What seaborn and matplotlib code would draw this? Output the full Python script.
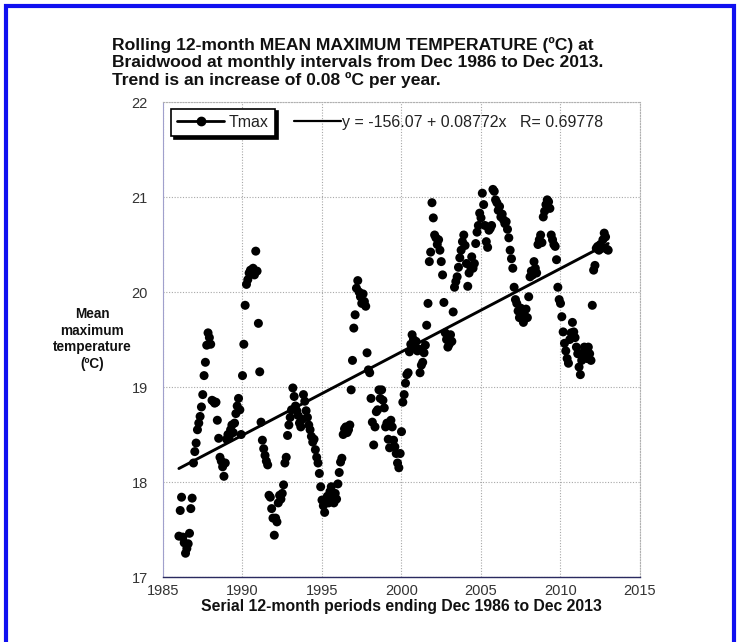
import matplotlib
matplotlib.use("Agg")
import matplotlib.pyplot as plt
from matplotlib.lines import Line2D
from matplotlib.patches import Rectangle
import numpy as np
import pandas as pd
import seaborn as sns

# Rolling 12-month mean maximum temperature (°C) at Braidwood, one value per
# month; the first 12-month window ends Dec 1986, the last ends Dec 2013.
tmax_1986_1990 = [
    17.43, 17.70, 17.84, 17.42, 17.36, 17.25, 17.30, 17.35, 17.46, 17.72, 17.83, 18.20,
    18.32, 18.41, 18.55, 18.62, 18.69, 18.79, 18.92, 19.12, 19.26, 19.44, 19.57, 19.52,
    19.45, 18.86, 18.85, 18.83, 18.84, 18.65, 18.46, 18.26, 18.22, 18.16, 18.06, 18.20,
    18.45, 18.50, 18.48, 18.55, 18.60, 18.52, 18.62, 18.72, 18.80, 18.88, 18.76, 18.50,
    19.12, 19.45, 19.86, 20.08, 20.13, 20.20, 20.23, 20.20, 20.25, 20.18, 20.43, 20.22,
]
tmax_1991_1995 = [
    19.67, 19.16, 18.63, 18.44, 18.35, 18.28, 18.22, 18.18, 17.86, 17.84, 17.72, 17.62,
    17.44, 17.62, 17.58, 17.78, 17.86, 17.82, 17.88, 17.97, 18.20, 18.26, 18.49, 18.60,
    18.68, 18.76, 18.99, 18.90, 18.80, 18.75, 18.70, 18.62, 18.58, 18.66, 18.92, 18.85,
    18.75, 18.68, 18.60, 18.55, 18.48, 18.42, 18.45, 18.34, 18.26, 18.20, 18.09, 17.95,
    17.81, 17.75, 17.68, 17.80, 17.85, 17.78, 17.90, 17.95, 17.85, 17.78, 17.88, 17.82,
]
tmax_1996_2000 = [
    17.98, 18.10, 18.21, 18.25, 18.50, 18.56, 18.58, 18.52, 18.55, 18.60, 18.97, 19.28,
    19.62, 19.76, 20.04, 20.12, 20.00, 19.95, 19.88, 19.98, 19.90, 19.85, 19.36, 19.18,
    19.15, 18.88, 18.63, 18.39, 18.58, 18.74, 18.76, 18.97, 18.88, 18.97, 18.86, 18.78,
    18.58, 18.62, 18.45, 18.36, 18.65, 18.58, 18.44, 18.37, 18.30, 18.20, 18.15, 18.30,
    18.53, 18.84, 18.92, 19.04, 19.13, 19.15, 19.37, 19.45, 19.55, 19.50, 19.42, 19.48,
]
tmax_2001_2005 = [
    19.38, 19.40, 19.15, 19.23, 19.26, 19.36, 19.44, 19.65, 19.88, 20.32, 20.42, 20.94,
    20.78, 20.60, 20.57, 20.50, 20.55, 20.44, 20.32, 20.18, 19.89, 19.57, 19.50, 19.42,
    19.45, 19.55, 19.48, 19.79, 20.05, 20.11, 20.16, 20.26, 20.36, 20.44, 20.53, 20.60,
    20.49, 20.30, 20.06, 20.20, 20.27, 20.37, 20.25, 20.30, 20.51, 20.63, 20.70, 20.83,
    20.78, 21.04, 20.92, 20.70, 20.53, 20.47, 20.65, 20.67, 20.70, 21.08, 21.06, 20.97,
]
tmax_2006_2010 = [
    20.94, 20.86, 20.90, 20.79, 20.82, 20.76, 20.72, 20.74, 20.66, 20.57, 20.44, 20.35,
    20.25, 20.05, 19.92, 19.88, 19.80, 19.73, 19.83, 19.78, 19.68, 19.75, 19.82, 19.73,
    19.95, 20.16, 20.22, 20.18, 20.32, 20.25, 20.20, 20.50, 20.55, 20.60, 20.52, 20.79,
    20.85, 20.92, 20.97, 20.95, 20.88, 20.60, 20.55, 20.50, 20.48, 20.34, 20.05, 19.92,
    19.88, 19.74, 19.58, 19.46, 19.38, 19.30, 19.25, 19.50, 19.57, 19.68, 19.58, 19.52,
]
tmax_2011_2013 = [
    19.42, 19.35, 19.21, 19.13, 19.28, 19.36, 19.42, 19.38, 19.30, 19.42, 19.35, 19.28,
    19.86, 20.23, 20.28, 20.46, 20.48, 20.44, 20.50, 20.46, 20.55, 20.62, 20.58, 20.45,
    20.44,
]
first_period_end = "1986-12"

# Least-squares trend reported on the chart
trend_intercept = -156.07
trend_slope = 0.08772
trend_r = 0.69778

x_ticks = [1985, 1990, 1995, 2000, 2005, 2010, 2015]
y_ticks = [17, 18, 19, 20, 21, 22]

title_lines = [
    "Rolling 12-month MEAN MAXIMUM TEMPERATURE (ºC) at",
    "Braidwood at monthly intervals from Dec 1986 to Dec 2013.",
    "Trend is an increase of 0.08 ºC per year.",
]
y_label = "Mean\nmaximum\ntemperature\n(ºC)"
x_label = "Serial 12-month periods ending Dec 1986 to Dec 2013"
series_label = "Tmax"

# ---------------------------------------------------------------------------
tmax = (tmax_1986_1990 + tmax_1991_1995 + tmax_1996_2000
        + tmax_2001_2005 + tmax_2006_2010 + tmax_2011_2013)
ends = pd.date_range(first_period_end, periods=len(tmax), freq="MS")
df = pd.DataFrame({
    "year": ends.year + (ends.month - 12) / 12.0,
    "tmax": tmax,
})
trend_df = pd.DataFrame({"year": [df["year"].min(), df["year"].max()]})
trend_df["fit"] = trend_intercept + trend_slope * trend_df["year"]

sns.set_style("white")
plt.rcParams["font.family"] = ["Liberation Sans", "DejaVu Sans"]
tick_family = ["Liberation Sans Narrow", "Liberation Sans", "DejaVu Sans"]

W, H = 739, 642
fig = plt.figure(figsize=(W / 100, H / 100), dpi=100)
fig.patch.set_facecolor("white")

ax_l, ax_r, ax_t, ax_b = 163, 640, 102, 577
ax = fig.add_axes([ax_l / W, 1 - ax_b / H, (ax_r - ax_l) / W, (ax_b - ax_t) / H])

sns.scatterplot(data=df, x="year", y="tmax", ax=ax, s=42, color="black",
                edgecolor="none", linewidth=0, legend=False, zorder=3)
sns.lineplot(data=trend_df, x="year", y="fit", ax=ax, color="black",
             linewidth=2.1, legend=False, zorder=4)

ax.set_xlim(x_ticks[0], x_ticks[-1])
ax.set_ylim(y_ticks[0], y_ticks[-1])
ax.set_xticks(x_ticks)
ax.set_yticks(y_ticks)
ax.set_xlabel("")
ax.set_ylabel("")
ax.grid(True, linestyle=(0, (1, 1.5)), color="#a8a8a8", linewidth=0.8)
ax.set_axisbelow(True)
ax.tick_params(axis="both", direction="in", length=3, width=0.6, color="#777777",
               labelsize=10.5, labelcolor="#333333")
ax.tick_params(axis="y", pad=11)
ax.tick_params(axis="x", pad=5)
for lab in ax.get_xticklabels() + ax.get_yticklabels():
    lab.set_family(tick_family)

for side in ("top", "right"):
    ax.spines[side].set_color("#b0b0b0")
    ax.spines[side].set_linestyle((0, (1, 1.5)))
    ax.spines[side].set_linewidth(0.8)
ax.spines["left"].set_color("#a0a0cc")
ax.spines["left"].set_linewidth(0.8)
ax.spines["bottom"].set_color("#2a2a60")
ax.spines["bottom"].set_linestyle((0, (2, 1)))
ax.spines["bottom"].set_linewidth(1.0)

# Legends: boxed series key, then the fitted-line key beside it
h_series = Line2D([], [], color="black", linewidth=2, marker="o", markersize=6)
leg1 = ax.legend([h_series], [series_label], loc="upper left",
                 bbox_to_anchor=(0.017, 0.986), borderaxespad=0,
                 frameon=True, fancybox=False, edgecolor="black",
                 shadow={"color": "black", "alpha": 1},
                 fontsize=11.5, handlelength=2.9, handletextpad=0.3,
                 borderpad=0.4, labelcolor="#222222")
leg1.get_frame().set_linewidth(1.2)
ax.add_artist(leg1)

h_trend = Line2D([], [], color="black", linewidth=1.6)
eq_text = f"y = {trend_intercept:.2f} + {trend_slope:.5f}x   R= {trend_r:.5f}"
ax.legend([h_trend], [eq_text], loc="upper left", bbox_to_anchor=(0.262, 0.986),
          borderaxespad=0, frameon=False, fontsize=11.5, handlelength=2.9,
          handletextpad=0.1, borderpad=0.4, labelcolor="#222222")

# Title block and axis titles
for i, line in enumerate(title_lines):
    fig.text(112 / W, 1 - (45 + 17.5 * i) / H, line, ha="left", va="center",
             fontsize=12.6, fontweight="bold", color="#111111")
fig.text(92 / W, 1 - 339 / H, y_label, ha="center", va="center",
         fontsize=9.8, fontweight="bold", color="#111111", linespacing=1.22)
fig.text((ax_l + ax_r) / 2 / W, 1 - 607 / H, x_label, ha="center", va="center",
         fontsize=11.3, fontweight="bold", color="#111111")

# Blue page frame
fig.add_artist(Rectangle((6 / W, -0.05), (734 - 6) / W, 1.05 - 6 / H,
                         transform=fig.transFigure, fill=False,
                         edgecolor="#1010f0", linewidth=3.0))

fig.savefig("out.png", dpi=100, facecolor="white")
